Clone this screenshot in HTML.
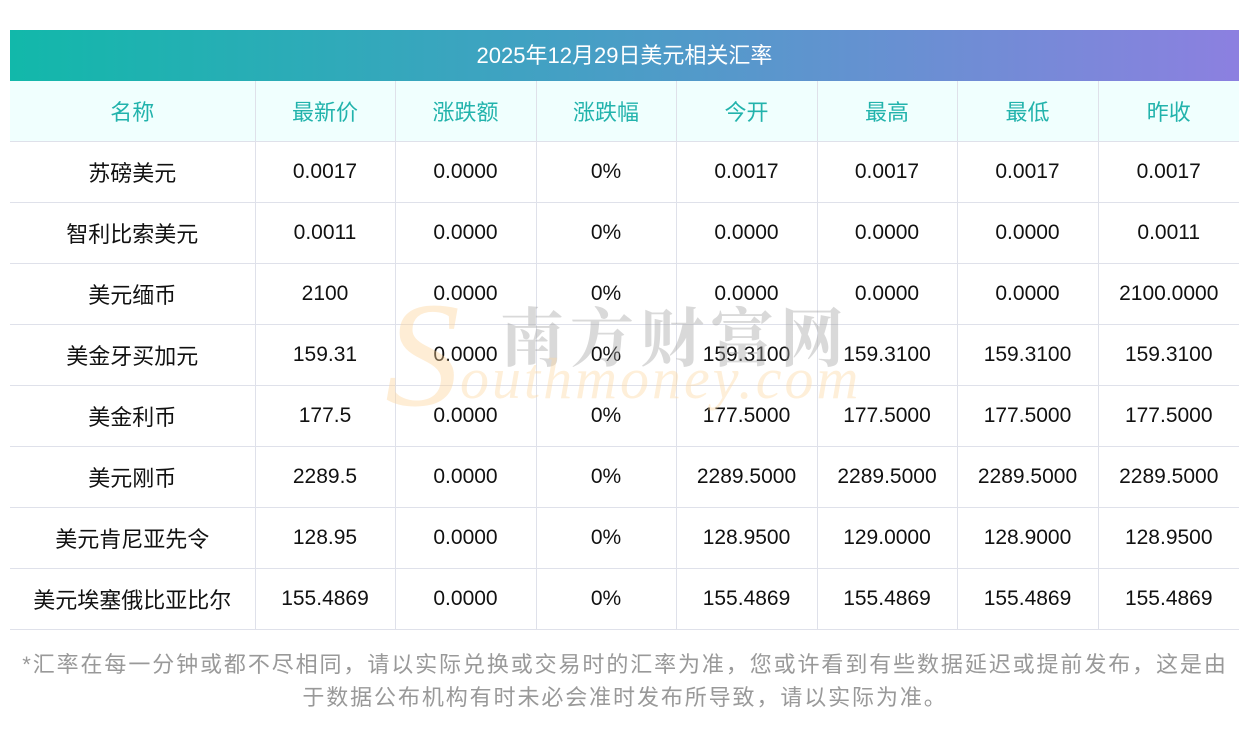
<!DOCTYPE html>
<html><head><meta charset="utf-8"><style>
body{margin:0;width:1250px;height:733px;background:#fff;position:relative;overflow:hidden;font-family:"Liberation Sans","Noto Sans CJK SC",sans-serif;}
.bar{position:absolute;left:10px;top:30px;width:1229px;height:51px;background:linear-gradient(90deg,#12b8aa,#44a0c4 45%,#8c80e0);color:#fff;font-size:22px;line-height:51px;text-align:center;}
table{position:absolute;left:10px;top:81px;border-collapse:collapse;table-layout:fixed;width:1229px;}
td{height:60px;border:1px solid #dfe1ea;text-align:center;font-size:21px;color:#111;padding:0;}
td:first-child{font-size:22px;}
tr:first-child td{background:#f0fffe;color:#22b3ac;border-top:none;font-size:22px;}
tr td:first-child{border-left:none;}tr td:last-child{border-right:none;}
.wm1{position:absolute;left:500px;top:288px;font-size:64px;color:rgba(160,160,160,.4);letter-spacing:6px;font-family:"Noto Serif CJK SC",serif;font-weight:bold;}
.wm2{position:absolute;left:460px;top:345px;font-size:58px;color:rgba(253,215,160,.4);font-style:italic;font-family:"Liberation Serif",serif;letter-spacing:3px;}
.wm3{position:absolute;left:385px;top:280px;font-size:150px;color:rgba(253,210,150,.4);font-style:italic;font-family:"Liberation Serif",serif;line-height:150px;}
.note{position:absolute;left:0px;top:648px;width:1250px;text-align:center;color:#999;font-size:22px;letter-spacing:1.9px;line-height:33px;}
</style></head><body>
<div class="bar">2025年12月29日美元相关汇率</div>
<table>
<colgroup><col style="width:245px"><col style="width:140px"><col style="width:141px"><col style="width:140px"><col style="width:141px"><col style="width:140px"><col style="width:141px"><col style="width:141px"></colgroup>
<tr><td>名称</td><td>最新价</td><td>涨跌额</td><td>涨跌幅</td><td>今开</td><td>最高</td><td>最低</td><td>昨收</td></tr>
<tr><td>苏磅美元</td><td>0.0017</td><td>0.0000</td><td>0%</td><td>0.0017</td><td>0.0017</td><td>0.0017</td><td>0.0017</td></tr>
<tr><td>智利比索美元</td><td>0.0011</td><td>0.0000</td><td>0%</td><td>0.0000</td><td>0.0000</td><td>0.0000</td><td>0.0011</td></tr>
<tr><td>美元缅币</td><td>2100</td><td>0.0000</td><td>0%</td><td>0.0000</td><td>0.0000</td><td>0.0000</td><td>2100.0000</td></tr>
<tr><td>美金牙买加元</td><td>159.31</td><td>0.0000</td><td>0%</td><td>159.3100</td><td>159.3100</td><td>159.3100</td><td>159.3100</td></tr>
<tr><td>美金利币</td><td>177.5</td><td>0.0000</td><td>0%</td><td>177.5000</td><td>177.5000</td><td>177.5000</td><td>177.5000</td></tr>
<tr><td>美元刚币</td><td>2289.5</td><td>0.0000</td><td>0%</td><td>2289.5000</td><td>2289.5000</td><td>2289.5000</td><td>2289.5000</td></tr>
<tr><td>美元肯尼亚先令</td><td>128.95</td><td>0.0000</td><td>0%</td><td>128.9500</td><td>129.0000</td><td>128.9000</td><td>128.9500</td></tr>
<tr><td>美元埃塞俄比亚比尔</td><td>155.4869</td><td>0.0000</td><td>0%</td><td>155.4869</td><td>155.4869</td><td>155.4869</td><td>155.4869</td></tr>
</table>
<div class="wm3">S</div>
<div class="wm1">南方财富网</div>
<div class="wm2">outhmoney.com</div>
<div class="note">*汇率在每一分钟或都不尽相同，请以实际兑换或交易时的汇率为准，您或许看到有些数据延迟或提前发布，这是由<br>于数据公布机构有时未必会准时发布所导致，请以实际为准。</div>
</body></html>
